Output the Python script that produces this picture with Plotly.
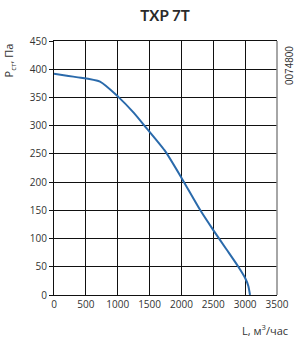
import plotly.graph_objects as go

flow = [0, 350, 722, 1009, 1250, 1455, 1750, 2004, 2292, 2500, 2700, 2893, 3000, 3050, 3076]
pressure = [392, 386, 378, 351, 323, 295, 254, 207, 151, 115, 82, 50, 30, 16, 0]

x_ticks = [0, 500, 1000, 1500, 2000, 2500, 3000, 3500]
y_ticks = [0, 50, 100, 150, 200, 250, 300, 350, 400, 450]

fig = go.Figure()
fig.add_trace(go.Scatter(x=flow, y=pressure, mode="lines",
                         line=dict(color="#2a6aab", width=2, shape="spline", smoothing=0.6),
                         hoverinfo="skip"))

tickfont = dict(family="Open Sans, Liberation Sans, sans-serif", size=10, color="#333")

fig.update_layout(
    width=300, height=345,
    margin=dict(l=54, r=23, t=41, b=50),
    paper_bgcolor="white", plot_bgcolor="white",
    showlegend=False,
    title=dict(text="<b>TXP 7T</b>", x=0.55, xanchor="center", y=0.953, yanchor="middle",
               font=dict(family="Lato, Open Sans, sans-serif", size=15, color="#2a2a2a")),
    xaxis=dict(range=[0, 3500], tickvals=x_ticks, showgrid=True, gridcolor="#111", gridwidth=1,
               showline=True, linecolor="#111", linewidth=1, mirror=True, zeroline=False,
               ticks="", tickfont=tickfont, fixedrange=True),
    yaxis=dict(range=[0, 450], tickvals=y_ticks, showgrid=True, gridcolor="#111", gridwidth=1,
               showline=True, linecolor="#111", linewidth=1, zeroline=False,
               ticks="outside", ticklen=4, tickcolor="#111", tickfont=tickfont, fixedrange=True),
    shapes=[dict(type="line", xref="paper", yref="paper", x0=1, x1=1, y0=0, y1=1,
                 line=dict(color="#888", width=1.5))],
    annotations=[
        dict(text="P<sub>ст</sub>, Па", xref="paper", yref="paper", x=-0.2, y=1.0,
             xanchor="center", yanchor="top", textangle=-90, showarrow=False,
             font=dict(family="Open Sans, Liberation Sans, sans-serif", size=11, color="#333")),
        dict(text="L, м<sup>3</sup>/час", xref="paper", yref="paper", x=1.06, y=-0.1,
             xanchor="right", yanchor="top", showarrow=False,
             font=dict(family="Open Sans, Liberation Sans, sans-serif", size=11, color="#333")),
        dict(text="0074800", xref="paper", yref="paper", x=1.02, y=0.99,
             xanchor="left", yanchor="top", textangle=-90, showarrow=False,
             font=dict(family="Liberation Sans, sans-serif", size=10, color="#333")),
    ],
)

fig.write_html("out.html")
